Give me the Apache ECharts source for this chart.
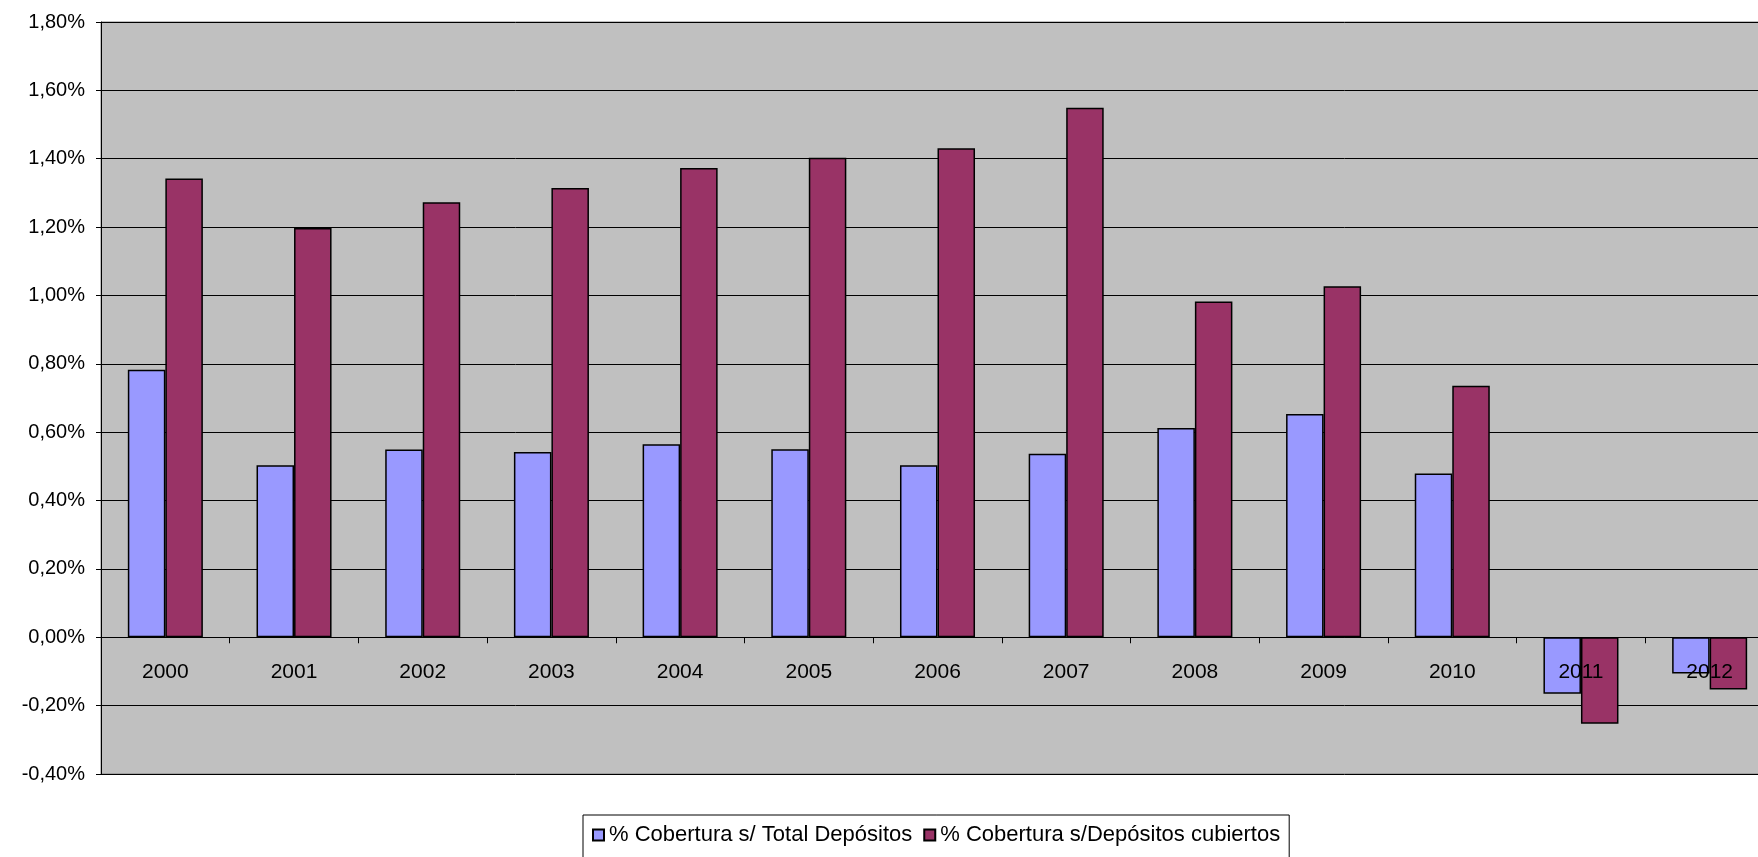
<!DOCTYPE html>
<html><head><meta charset="utf-8">
<script src="https://cdn.jsdelivr.net/npm/echarts@6/dist/echarts.min.js"></script>
<style>html,body{margin:0;padding:0;background:#fff}#c{width:1758px;height:857px}</style>
</head><body><div id="c"></div>
<script>
const categories = ['2000','2001','2002','2003','2004','2005','2006','2007','2008','2009','2010','2011','2012'];
const totalDepositos = [0.783, 0.503, 0.549, 0.542, 0.565, 0.550, 0.503, 0.537, 0.612, 0.653, 0.479, -0.165, -0.106];
const depositosCubiertos = [1.342, 1.197, 1.273, 1.314, 1.373, 1.403, 1.431, 1.549, 0.982, 1.027, 0.736, -0.253, -0.153];
const seriesNames = ['% Cobertura s/ Total Depósitos', '% Cobertura s/Depósitos cubiertos'];
const yMin = -0.4, yMax = 1.8, yStep = 0.2;

const font = 'Liberation Sans, Arial, sans-serif';
const gridTop = 22, gridBottom = 83, chartH = 857;
const plotH = chartH - gridTop - gridBottom;
const zeroOffset = -plotH * (0 - yMin) / (yMax - yMin);

const chart = echarts.init(document.getElementById('c'));
chart.setOption({
  animation: false,
  backgroundColor: '#ffffff',
  grid: { left: 101, top: gridTop, width: 1673, bottom: gridBottom, outerBoundsMode: 'none', containLabel: false,
    show: true, backgroundColor: '#C0C0C0', borderColor: '#808080', borderWidth: 1 },
  legend: {
    left: 583, top: 815,
    data: seriesNames,
    itemWidth: 11, itemHeight: 11, itemGap: 11,
    icon: 'rect',
    borderColor: '#000', borderWidth: 1, backgroundColor: '#fff',
    padding: [9, 9, 40, 9],
    textStyle: { fontFamily: font, fontSize: 22, color: '#000' }
  },
  xAxis: {
    type: 'category', data: categories, z: 5,
    position: 'bottom', offset: zeroOffset,
    axisLine: { onZero: false, lineStyle: { color: '#000', width: 1 } },
    axisTick: { show: true, interval: 0, length: 6, lineStyle: { color: '#000' } },
    axisLabel: { interval: 0, margin: 24, fontFamily: font, fontSize: 21, color: '#000' },
    splitLine: { show: false }
  },
  yAxis: {
    type: 'value', min: yMin, max: yMax, interval: yStep,
    axisLine: { show: true, lineStyle: { color: '#000', width: 1 } },
    axisTick: { show: true, length: 5, lineStyle: { color: '#000' } },
    axisLabel: { margin: 16, fontFamily: font, fontSize: 20, color: '#000',
      formatter: v => v.toFixed(2).replace('.', ',') + '%' },
    splitLine: { show: true, lineStyle: { color: '#000', width: 1 } }
  },
  series: [
    { name: seriesNames[0], type: 'bar', data: totalDepositos, barGap: '0%', barCategoryGap: '41.7%',
      itemStyle: { color: '#9999FF', borderColor: '#000', borderWidth: 1.5 } },
    { name: seriesNames[1], type: 'bar', data: depositosCubiertos, barGap: '0%', barCategoryGap: '41.7%',
      itemStyle: { color: '#993366', borderColor: '#000', borderWidth: 1.5 } }
  ]
});
</script></body></html>
